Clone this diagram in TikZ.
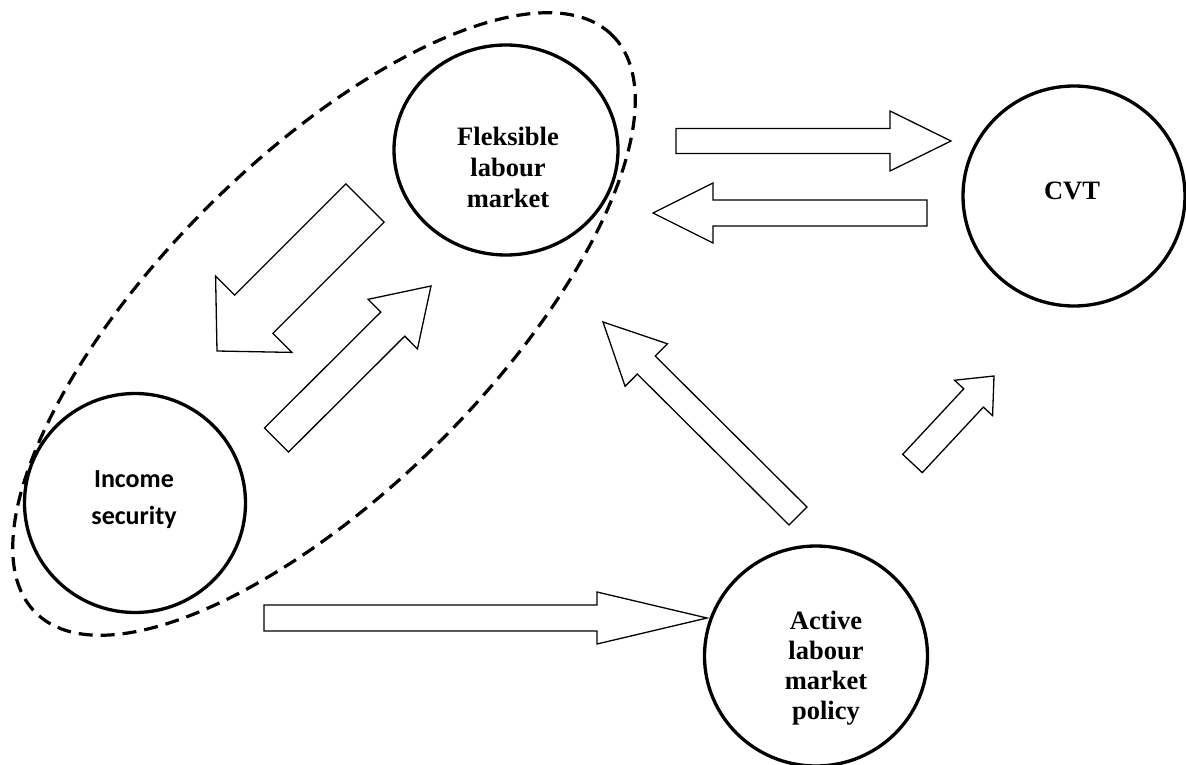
\documentclass[tikz,border=0pt]{standalone}
\usepackage{fontspec}
\setmainfont{Liberation Serif}
\newfontfamily\calfont{Carlito}
\usetikzlibrary{calc,shapes.geometric}

% #1 id, #2 tail, #3 tip, #4 shaft half width, #5 head half width, #6 head length
\newcommand{\blockarrow}[6]{%
  \coordinate (#1t) at #2;
  \coordinate (#1p) at #3;
  \coordinate (#1h) at ($(#1p)!#6!(#1t)$);
  \draw[blockarr] ($(#1t)!#4!90:(#1p)$) -- ($(#1h)!#4!90:(#1p)$) -- ($(#1h)!#5!90:(#1p)$)
    -- (#1p) -- ($(#1h)!#5!-90:(#1p)$) -- ($(#1h)!#4!-90:(#1p)$) -- ($(#1t)!#4!-90:(#1p)$) -- cycle;
}

\begin{document}
\begin{tikzpicture}[x=1pt,y=-1pt,
  circ/.style={draw, line width=3.3pt, ellipse, inner sep=0pt, outer sep=0pt},
  lbl/.style={font=\bfseries\fontsize{26.5}{31}\selectfont, align=center, inner sep=0pt},
  blockarr/.style={draw, line width=1.3pt, line join=miter},
  grp/.style={draw, ellipse, line width=3.2pt, dash pattern=on 14pt off 8pt, inner sep=0pt, outer sep=0pt}]

\fill[white] (0,0) rectangle (1186,765);
\useasboundingbox (0,0) rectangle (1186,765);

% circles
\node[circ, minimum width=224pt, minimum height=210pt] (flex) at (506,150) {};
\node[circ, minimum width=222pt, minimum height=220pt] (cvt) at (1074,196) {};
\node[circ, minimum width=221pt, minimum height=219pt] (inc) at (135,503) {};
\node[circ, minimum width=223pt, minimum height=220pt] (alm) at (816,656) {};

% labels
\node[lbl] (flexl) at (508,167) {Fleksible\\labour\\market};
\node[lbl] (cvtl) at (1072,191) {CVT};
\node[lbl, font=\calfont\bfseries\fontsize{26}{37}\selectfont] (incl) at (134,500) {Income\\security};
\node[lbl, font=\bfseries\fontsize{26.5}{30}\selectfont] (alml) at (826,668) {Active\\labour\\market\\policy};

% dashed group
\node[grp, minimum width=816pt, minimum height=330pt, rotate=45] (group) at (324,324) {};

% block arrows
\blockarrow{a}{(676,141)}{(951,141)}{12.5pt}{30pt}{61pt}
\blockarrow{b}{(927,213)}{(653,213)}{13pt}{30pt}{60pt}
\blockarrow{c}{(264,618)}{(707,618)}{13pt}{26pt}{110pt}
\blockarrow{d}{(365,203)}{(217,351)}{27pt}{54pt}{52pt}
\blockarrow{e}{(276.5,440)}{(431,286)}{17pt}{35pt}{54pt}
\blockarrow{f}{(798,516)}{(603,322)}{12.7pt}{30pt}{61pt}
\blockarrow{g}{(912.5,463.5)}{(994,376)}{13.4pt}{26pt}{30pt}
\end{tikzpicture}
\end{document}
